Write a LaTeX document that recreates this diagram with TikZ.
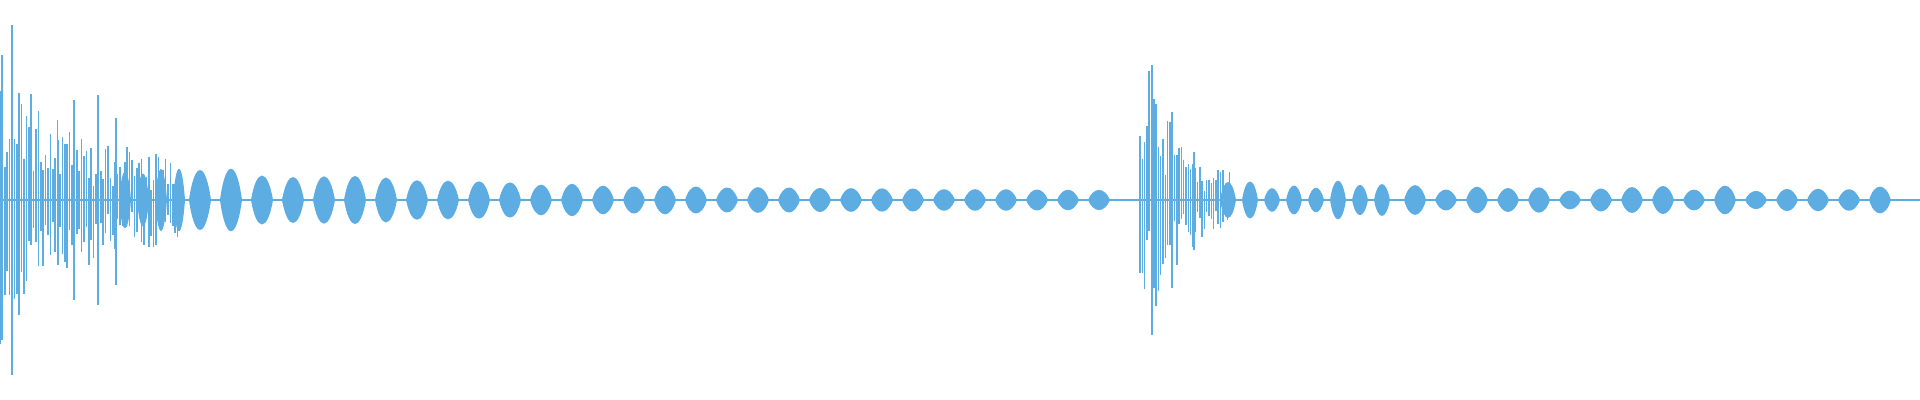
\documentclass[tikz,border=0pt]{standalone}
\usepackage{tikz}
\definecolor{wave}{HTML}{5DADE2}
\tikzset{waveline/.style={draw=wave, line width=0.45pt}, blob/.style={fill=wave}}
\newcommand{\lens}[3]{% x, half width, amplitude
  \fill[wave] (#1-#2,0) .. controls (#1-#2/2,#3) and (#1+#2/2,#3) .. (#1+#2,0)
    .. controls (#1+#2/2,-#3) and (#1-#2/2,-#3) .. cycle;}
\begin{document}
\begin{tikzpicture}[x=0.01cm, y=0.01cm]
\useasboundingbox (0,-200) rectangle (1920,200);
\pgfmathsetseed{11}

% centre line
\draw[waveline, line width=0.8pt] (0,0) -- (1920,0);

% first onset
\foreach \i in {0,...,75}{
  \pgfmathsetmacro{\xx}{\i*2.4}
  \pgfmathsetmacro{\env}{30+120*exp(-\xx/80)}
  \pgfmathsetmacro{\aa}{\env*(0.2+0.8*rnd)}
  \pgfmathsetmacro{\bb}{\env*(0.2+0.8*rnd)}
  \draw[waveline] (\xx,\aa) -- (\xx,-\bb);
}
\draw[waveline] (12,175) -- (12,-175);
\draw[waveline] (2,145) -- (2,-140);
\draw[waveline] (74,100) -- (74,-100);
\draw[waveline] (98,105) -- (98,-105);
\draw[waveline] (116,82) -- (116,-85);
\draw[waveline] (58,60) -- (58,-65);

% decaying tail
\foreach \xx in {125,143,...,185}{
  \pgfmathsetmacro{\aa}{45*(0.6+0.4*rnd)}
  \lens{\xx}{6}{\aa}
}
\foreach \xx in {200,231,...,1120}{
  \pgfmathsetmacro{\aa}{12+36*exp(-(\xx-200)/300)*(0.7+0.3*rnd)}
  \lens{\xx}{11}{\aa}
}

% second onset
\foreach \i in {0,...,40}{
  \pgfmathsetmacro{\xx}{1140+\i*2.3}
  \pgfmathsetmacro{\env}{18+110*exp(-(\xx-1150)/35)}
  \pgfmathsetmacro{\aa}{\env*(0.2+0.8*rnd)}
  \pgfmathsetmacro{\bb}{\env*(0.2+0.8*rnd)}
  \draw[waveline] (\xx,\aa) -- (\xx,-\bb);
}
\draw[waveline] (1152,135) -- (1152,-135);
\draw[waveline] (1172,88) -- (1172,-88);
\draw[waveline] (1194,48) -- (1194,-50);
\foreach \xx in {1228,1250,...,1390}{
  \pgfmathsetmacro{\aa}{15+12*rnd}
  \lens{\xx}{8}{\aa}
}
\foreach \xx in {1415,1446,...,1905}{
  \pgfmathsetmacro{\aa}{12+8*rnd}
  \lens{\xx}{11}{\aa}
}
\end{tikzpicture}
\end{document}
